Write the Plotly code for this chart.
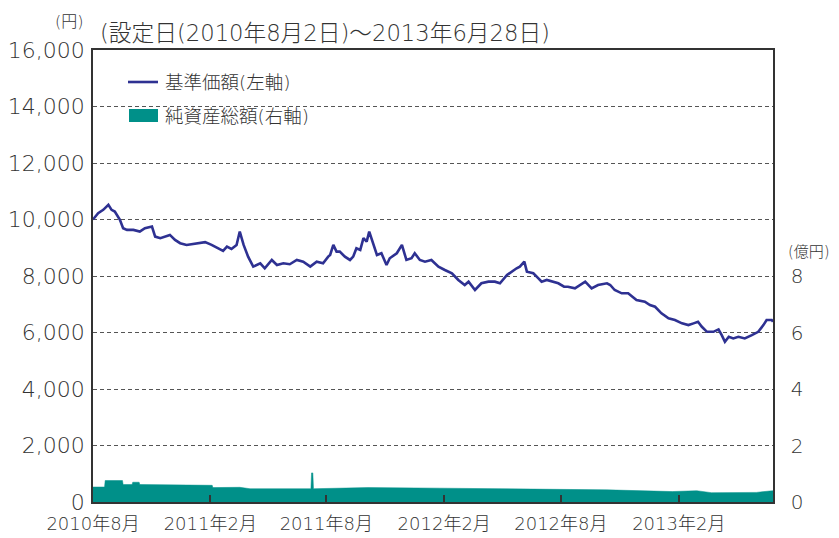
import plotly.graph_objects as go

# 基準価額（円）
nav_dates = [
    "2010-08-02", "2010-08-10", "2010-08-18", "2010-08-26", "2010-08-31", "2010-09-05",
    "2010-09-13", "2010-09-18", "2010-09-24", "2010-10-04", "2010-10-14", "2010-10-22",
    "2010-11-02", "2010-11-07", "2010-11-15", "2010-11-22", "2010-11-30", "2010-12-08",
    "2010-12-16", "2010-12-26", "2011-01-11", "2011-01-24", "2011-02-03", "2011-02-14",
    "2011-02-21", "2011-02-27", "2011-03-06", "2011-03-14", "2011-03-19", "2011-03-25",
    "2011-04-01", "2011-04-09", "2011-04-14", "2011-04-20", "2011-04-27", "2011-05-08",
    "2011-05-16", "2011-05-26", "2011-06-05", "2011-06-16", "2011-06-26", "2011-07-07",
    "2011-07-17", "2011-07-27", "2011-08-04", "2011-08-07", "2011-08-12", "2011-08-17",
    "2011-08-22", "2011-08-30", "2011-09-07", "2011-09-12", "2011-09-17", "2011-09-23",
    "2011-09-28", "2011-10-03", "2011-10-07", "2011-10-13", "2011-10-19", "2011-10-26",
    "2011-11-03", "2011-11-08", "2011-11-19", "2011-11-27", "2011-12-04", "2011-12-12",
    "2011-12-17", "2011-12-25", "2012-01-02", "2012-01-12", "2012-01-23", "2012-02-02",
    "2012-02-13", "2012-02-23", "2012-03-04", "2012-03-10", "2012-03-20", "2012-03-30",
    "2012-04-10", "2012-04-20", "2012-04-28", "2012-05-09", "2012-05-16", "2012-05-24",
    "2012-05-29", "2012-06-05", "2012-06-09", "2012-06-19", "2012-06-27", "2012-07-02",
    "2012-07-10", "2012-07-18", "2012-07-28", "2012-08-06", "2012-08-12", "2012-08-23",
    "2012-08-31", "2012-09-08", "2012-09-18", "2012-09-28", "2012-10-12", "2012-10-17",
    "2012-10-24", "2012-11-04", "2012-11-14", "2012-11-27", "2012-12-10", "2012-12-18",
    "2012-12-26", "2013-01-05", "2013-01-16", "2013-01-26", "2013-02-06", "2013-02-16",
    "2013-02-24", "2013-03-03", "2013-03-09", "2013-03-17", "2013-03-27", "2013-04-04",
    "2013-04-09", "2013-04-14", "2013-04-20", "2013-04-27", "2013-05-05", "2013-05-15",
    "2013-05-26", "2013-06-05", "2013-06-13", "2013-06-18", "2013-06-26", "2013-06-28",
]
nav_values = [
    10000, 10225, 10342, 10520, 10342, 10283,
    9988, 9693, 9633, 9633, 9573, 9693,
    9750, 9395, 9338, 9395, 9455, 9278,
    9161, 9100, 9161, 9197, 9100, 8984,
    8888, 9040, 8959, 9100, 9573, 9100,
    8686, 8331, 8391, 8451, 8274, 8568,
    8391, 8451, 8416, 8568, 8508, 8331,
    8508, 8451, 8686, 8746, 9100, 8863,
    8863, 8686, 8568, 8686, 8984, 8923,
    9338, 9218, 9573, 9161, 8746, 8806,
    8391, 8628, 8806, 9100, 8568, 8628,
    8806, 8568, 8508, 8568, 8331, 8213,
    8096, 7859, 7682, 7800, 7504, 7742,
    7800, 7800, 7742, 8036, 8154, 8274,
    8331, 8508, 8154, 8096, 7919, 7800,
    7859, 7800, 7742, 7621, 7621, 7564,
    7682, 7800, 7564, 7682, 7742, 7682,
    7504, 7387, 7387, 7149, 7089, 6972,
    6912, 6677, 6500, 6440, 6323, 6262,
    6323, 6380, 6202, 6024, 6024, 6110,
    5907, 5670, 5847, 5790, 5847, 5790,
    5907, 6024, 6262, 6440, 6440, 6380,
]

# 純資産総額（億円）
asset_dates = [
    "2010-08-02", "2010-08-20", "2010-08-21", "2010-09-17", "2010-09-18", "2010-10-02",
    "2010-10-03", "2010-10-13", "2010-10-14", "2011-02-04", "2011-02-05", "2011-03-19",
    "2011-04-04", "2011-07-08", "2011-07-09", "2011-07-11", "2011-07-12", "2011-08-20",
    "2011-10-05", "2012-01-25", "2012-07-01", "2012-10-12", "2013-01-22", "2013-03-01",
    "2013-03-24", "2013-06-02", "2013-06-23", "2013-06-28",
]
asset_values = [
    0.53, 0.53, 0.76, 0.76, 0.62, 0.62,
    0.70, 0.70, 0.62, 0.59, 0.51, 0.52,
    0.47, 0.47, 1.03, 1.03, 0.47, 0.48,
    0.51, 0.49, 0.45, 0.43, 0.37, 0.40,
    0.33, 0.34, 0.39, 0.40,
]

x_tick_vals = ["2010-08-02", "2011-02-01", "2011-08-01", "2012-02-01", "2012-08-01", "2013-02-01"]
x_tick_text = ["2010年8月", "2011年2月", "2011年8月", "2012年2月", "2012年8月", "2013年2月"]
y_left_ticks = [0, 2000, 4000, 6000, 8000, 10000, 12000, 14000, 16000]
y_right_ticks = [0, 2, 4, 6, 8]

NAVY = "#2e3192"
TEAL = "#009089"
INK = "#333333"
FONT = "DejaVu Sans, Noto Sans CJK JP"

fig = go.Figure()
fig.add_trace(go.Scatter(
    x=asset_dates, y=asset_values, yaxis="y2", mode="lines",
    line=dict(color=TEAL, width=0.5), fill="tozeroy", fillcolor=TEAL,
    name="純資産総額(右軸)", showlegend=False,
))
fig.add_trace(go.Scatter(
    x=nav_dates, y=nav_values, mode="lines",
    line=dict(color=NAVY, width=2.6),
    name="基準価額(左軸)", showlegend=False,
))

# plot area sits at page pixels x 93..773, y 50..502 (page has an 8px body margin)
def px_x(p):
    return (p - 93) / 680.0

def px_y(p):
    return (502 - p) / 452.0

fig.update_layout(
    width=831, height=530,
    margin=dict(l=85, r=66, t=42, b=36, autoexpand=False),
    paper_bgcolor="white", plot_bgcolor="white",
    font=dict(family=FONT, color=INK),
    xaxis=dict(
        type="date", range=["2010-08-02", "2013-06-28"], automargin=False,
        tickvals=x_tick_vals, ticktext=x_tick_text,
        ticks="inside", ticklen=7, tickwidth=2, tickcolor=INK,
        showline=True, linecolor=INK, linewidth=1.5, mirror=True,
        showgrid=False, tickfont=dict(size=18, color=INK, weight=300),
        ticklabelstandoff=5,
    ),
    yaxis=dict(
        range=[0, 16000], tickvals=y_left_ticks, tickformat=",", automargin=False,
        showline=True, linecolor=INK, linewidth=1.5, mirror=True,
        showgrid=True, gridcolor="#555555", gridwidth=1, griddash="4px,3px",
        zeroline=False, ticks="", tickfont=dict(size=22, color=INK, weight=300),
        ticklabelstandoff=2,
    ),
    yaxis2=dict(
        range=[0, 16], tickvals=y_right_ticks, overlaying="y", side="right",
        automargin=False,
        showline=True, linecolor=INK, linewidth=1.5, showgrid=False,
        zeroline=False, ticks="", tickfont=dict(size=20, color=INK, weight=300),
        ticklabelstandoff=12,
    ),
    showlegend=False,
    shapes=[
        dict(type="line", xref="paper", yref="paper",
             x0=px_x(128), x1=px_x(158), y0=px_y(82), y1=px_y(82),
             line=dict(color=NAVY, width=2.6)),
        dict(type="rect", xref="paper", yref="paper",
             x0=px_x(129), x1=px_x(158), y0=px_y(122), y1=px_y(109),
             fillcolor=TEAL, line=dict(width=0)),
    ],
    annotations=[
        dict(text="(設定日(2010年8月2日)～2013年6月28日)", xref="paper", yref="paper",
             x=px_x(98), y=px_y(33), xanchor="left", yanchor="middle", showarrow=False,
             font=dict(size=22.7, color=INK, weight=300)),
        dict(text="(円)", xref="paper", yref="paper",
             x=px_x(69), y=px_y(22), xanchor="center", yanchor="middle", showarrow=False,
             font=dict(size=16, color=INK, weight=300)),
        dict(text="(億円)", xref="paper", yref="paper",
             x=px_x(809), y=px_y(252), xanchor="center", yanchor="middle", showarrow=False,
             font=dict(size=15, color=INK, weight=300)),
        dict(text="基準価額(左軸)", xref="paper", yref="paper",
             x=px_x(163), y=px_y(82), xanchor="left", yanchor="middle", showarrow=False,
             font=dict(size=18.5, color=INK, weight=300)),
        dict(text="純資産総額(右軸)", xref="paper", yref="paper",
             x=px_x(163), y=px_y(116), xanchor="left", yanchor="middle", showarrow=False,
             font=dict(size=18.5, color=INK, weight=300)),
    ],
)

fig.write_html("out.html")
